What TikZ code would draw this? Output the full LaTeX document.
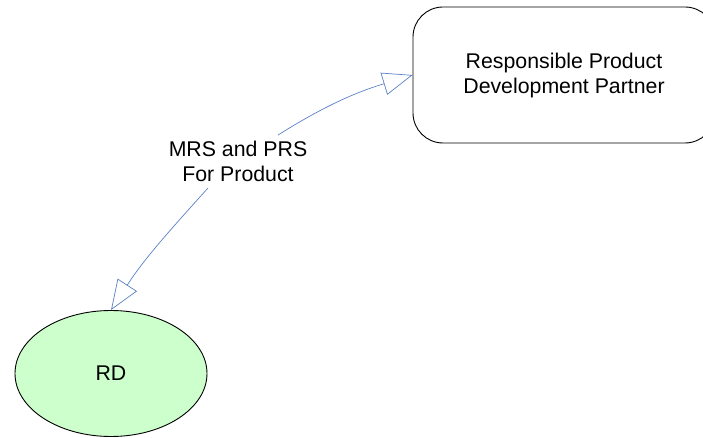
\documentclass[tikz,border=0pt]{standalone}
\usepackage{fontspec}
\setmainfont{Liberation Sans}
\usetikzlibrary{arrows.meta,shapes.geometric}
\definecolor{linkblue}{HTML}{5B80C6}
\definecolor{paleGreen}{HTML}{CCFFCC}
\tikzset{
  x=1pt, y=1pt,
  txt/.style={font=\fontsize{21.3}{25}\selectfont, align=center},
  partnerbox/.style={draw=black, line width=0.9pt, rounded corners=30pt,
    minimum width=302pt, minimum height=136pt, txt},
  rdnode/.style={ellipse, draw=black, line width=0.9pt, fill=paleGreen,
    minimum width=192pt, minimum height=126pt, inner sep=0pt, txt},
  link/.style={draw=linkblue, line width=0.7pt,
    -{Triangle[open, length=30pt, width=23pt, line width=0.7pt]}},
  lbl/.style={txt, inner sep=0pt}
}
\begin{document}
\begin{tikzpicture}
  \clip (0,0) rectangle (703,-438);
  \node[partnerbox] (partner) at (564,-75) {Responsible Product\\Development Partner};
  \node[rdnode] (rd) at (111,-373.5) {RD};
  \node[lbl] (msg) at (238,-161) {MRS and PRS\\For Product};
  \coordinate (msgtop) at (278,-135);
  \coordinate (msgbot) at (208,-188);
  \draw[link] (msgtop) to[out=32, in=197] (partner.west);
  \draw[link] (msgbot) to[out=-132, in=57] (rd.north);
\end{tikzpicture}
\end{document}
